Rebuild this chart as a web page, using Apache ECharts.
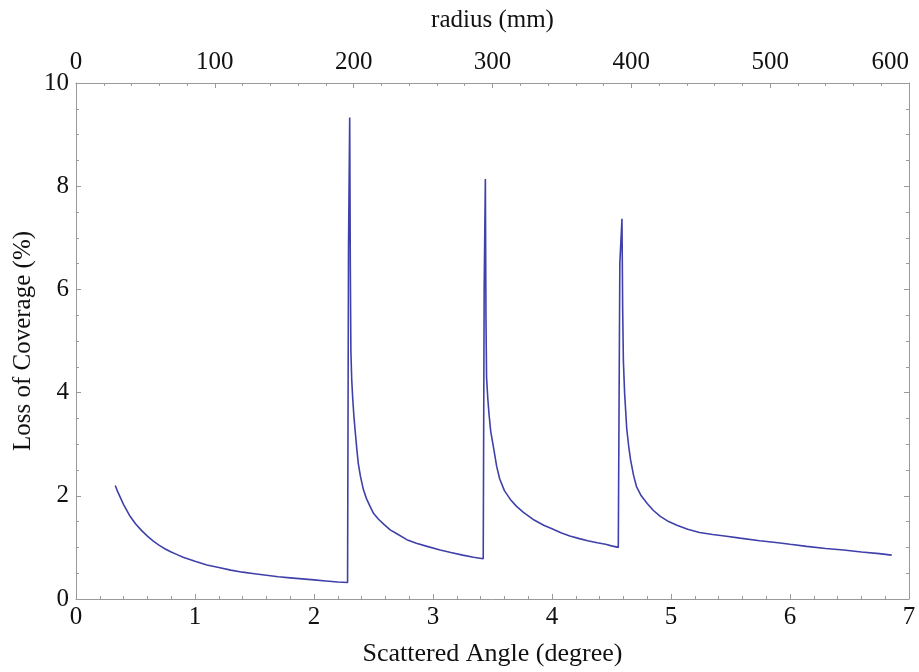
<!DOCTYPE html>
<html>
<head>
<meta charset="utf-8">
<script src="https://cdn.jsdelivr.net/npm/echarts@6/dist/echarts.min.js"></script>
<style>
    html, body { margin: 0; padding: 0; background: #fff; }
    #chartContainer { width: 919px; height: 672px; }
</style>
</head>
<body>
<div id="chartContainer"></div>
<script>
// scattered angle (degree)
const angleDeg = [
    0.33, 0.35, 0.4, 0.45, 0.5, 0.55, 0.6, 0.65, 0.7, 0.75, 0.8, 0.85, 0.9, 0.95, 1.0,
    1.1, 1.2, 1.3, 1.4, 1.5, 1.6, 1.7, 1.8, 1.9, 2.0, 2.1, 2.2, 2.282,
    2.29, 2.30, 2.305, 2.31, 2.317, 2.325, 2.335, 2.345, 2.36, 2.372, 2.39, 2.415, 2.44, 2.47, 2.5,
    2.54, 2.59, 2.64, 2.7, 2.78, 2.86, 2.95, 3.06, 3.15, 3.25, 3.34, 3.422,
    3.43, 3.44, 3.445, 3.45, 3.46, 3.47, 3.485, 3.507, 3.535, 3.56, 3.6, 3.65, 3.7, 3.76,
    3.85, 3.93, 4.0, 4.08, 4.15, 4.23, 4.3, 4.38, 4.45, 4.5, 4.557,
    4.57, 4.588, 4.594, 4.60, 4.61, 4.628, 4.645, 4.66, 4.685, 4.71, 4.75, 4.8, 4.85, 4.91, 4.98,
    5.05, 5.14, 5.24, 5.35, 5.45, 5.58, 5.745, 5.9, 6.0, 6.14, 6.3, 6.45, 6.6, 6.75, 6.855
];
// loss of coverage (%)
const lossPct = [
    2.20, 2.08, 1.83, 1.62, 1.46, 1.33, 1.22, 1.12, 1.04, 0.97, 0.91, 0.86, 0.81, 0.77, 0.73,
    0.66, 0.61, 0.56, 0.52, 0.49, 0.46, 0.43, 0.41, 0.39, 0.37, 0.35, 0.33, 0.32,
    6.8, 9.33, 6.5, 4.8, 4.25, 3.9, 3.55, 3.28, 2.9, 2.63, 2.38, 2.12, 1.95, 1.8, 1.66,
    1.55, 1.44, 1.34, 1.26, 1.15, 1.08, 1.02, 0.95, 0.9, 0.85, 0.81, 0.78,
    6.0, 8.14, 5.5, 4.3, 3.9, 3.6, 3.25, 2.96, 2.57, 2.33, 2.1, 1.93, 1.8, 1.68,
    1.53, 1.43, 1.36, 1.28, 1.22, 1.17, 1.13, 1.09, 1.06, 1.03, 1.0,
    6.5, 7.37, 5.6, 4.6, 4.0, 3.3, 2.95, 2.7, 2.4, 2.18, 2.0, 1.85, 1.72, 1.6, 1.5,
    1.43, 1.35, 1.29, 1.25, 1.22, 1.18, 1.13, 1.09, 1.06, 1.02, 0.98, 0.95, 0.91, 0.88, 0.85
];

const FONT = 'Liberation Serif';
const AXIS_GRAY = '#9a9a9a';
const LINE_BLUE = '#4040aa';

function makeAxis(extra) {
    return Object.assign({
        type: 'value',
        axisLine: { show: true, onZero: false, lineStyle: { color: AXIS_GRAY, width: 1 } },
        axisTick: { show: true, inside: true, length: 5, lineStyle: { color: AXIS_GRAY } },
        splitLine: { show: false },
        nameMoveOverlap: false,
        nameTextStyle: { color: '#111', fontFamily: FONT, fontSize: 25 }
    }, extra);
}

const myChart = echarts.init(document.getElementById('chartContainer'));

const option = {
    animation: false,
    backgroundColor: '#fff',
    grid: { left: 76, right: 10, top: 83, bottom: 73, containLabel: false, outerBoundsMode: 'none' },
    xAxis: [
        makeAxis({
            position: 'bottom',
            min: 0, max: 7, interval: 1,
            minorTick: { show: true, splitNumber: 5, length: 3, lineStyle: { color: AXIS_GRAY } },
            name: 'Scattered Angle (degree)',
            nameLocation: 'middle',
            nameGap: 42,
            nameTextStyle: { color: '#111', fontFamily: FONT, fontSize: 26 },
            axisLabel: { color: '#111', fontFamily: FONT, fontSize: 25, margin: 6 }
        }),
        makeAxis({
            position: 'top',
            min: 0, max: 600, interval: 100,
            minorTick: { show: true, splitNumber: 5, length: 3, lineStyle: { color: AXIS_GRAY } },
            name: 'radius (mm)',
            nameLocation: 'middle',
            nameGap: 50,
            axisLabel: { color: '#111', fontFamily: FONT, fontSize: 25, margin: 8, alignMaxLabel: 'right' }
        })
    ],
    yAxis: [
        makeAxis({
            position: 'left',
            min: 0, max: 10, interval: 2,
            minorTick: { show: true, splitNumber: 4, length: 3, lineStyle: { color: AXIS_GRAY } },
            name: 'Loss of Coverage (%)',
            nameLocation: 'middle',
            nameGap: 40,
            axisLabel: { color: '#111', fontFamily: FONT, fontSize: 25, margin: 7 }
        }),
        makeAxis({
            position: 'right',
            min: 0, max: 10, interval: 2,
            minorTick: { show: true, splitNumber: 4, length: 3, lineStyle: { color: AXIS_GRAY } },
            axisLabel: { show: false }
        })
    ],
    series: [
        {
            type: 'line',
            xAxisIndex: 0,
            yAxisIndex: 0,
            data: angleDeg.map((a, i) => [a, lossPct[i]]),
            showSymbol: false,
            smooth: false,
            lineStyle: { color: LINE_BLUE, width: 1.6 },
            itemStyle: { color: LINE_BLUE }
        }
    ]
};

myChart.setOption(option);
</script>
</body>
</html>
